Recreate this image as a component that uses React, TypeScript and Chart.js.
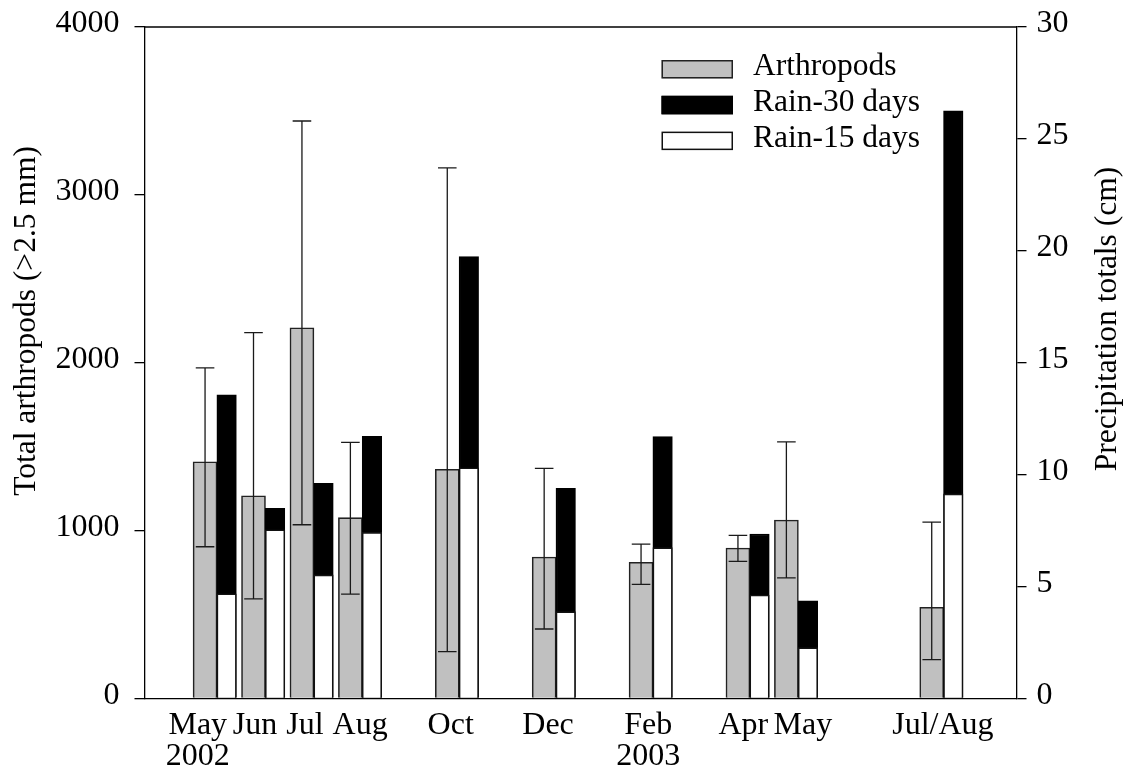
import React, { useEffect, useRef } from "react";
import { Chart, registerables } from "chart.js";

Chart.register(...registerables);

// Sampling dates, counted in months from May 2002
const sampleMonths = [0, 1, 2, 3, 5, 7, 9, 11, 12, 15];
// Mean total arthropods (>2.5 mm) per sample, with error-bar limits
const arthropods = [1410, 1208, 2208, 1077, 1365, 843, 811, 896, 1063, 543];
const arthropodsHigh = [1970, 2179, 3440, 1526, 3161, 1371, 920, 972, 1529, 1051];
const arthropodsLow = [904, 593, 1035, 622, 279, 414, 680, 817, 719, 231];
// Precipitation totals (cm) in the 30 and 15 days before each sample
const rain30 = [13.57, 8.5, 9.61, 11.71, 19.74, 9.39, 11.7, 7.35, 4.36, 26.26];
const rain15 = [4.68, 7.54, 5.52, 7.42, 10.31, 3.88, 6.74, 4.62, 2.27, 9.14];
// X-axis labels and where they sit (months from May 2002)
const xLabels: (string | string[])[] = [
  ["May", "2002"], "Jun", "Jul", "Aug", "Oct", "Dec", ["Feb", "2003"], "Apr", "May", "Jul/Aug",
];
const xLabelMonths = [-0.15, 1.03, 2.06, 3.2, 5.07, 7.08, 9.15, 11.11, 12.34, 15.23];

const leftTitle = "Total arthropods (>2.5 mm)";
const rightTitle = "Precipitation totals (cm)";

const FONT = "'Liberation Serif', 'Times New Roman', serif";
const FONT_SIZE = 31.5;
const TICK_SIZE = 32;
const RAIN_SHIFT = 0.445; // rain bars sit just right of the arthropod bar
const INK = "#000";
const EDGE = "#222";

const errorBars = {
  id: "errorBars",
  afterDatasetsDraw(chart: any) {
    const { ctx, scales } = chart;
    const x = scales.x;
    const y = scales.y;
    ctx.save();
    ctx.strokeStyle = "#1a1a1a";
    ctx.lineWidth = 1.3;
    sampleMonths.forEach((m, i) => {
      const px = x.getPixelForValue(m);
      const top = y.getPixelForValue(arthropodsHigh[i]);
      const bot = y.getPixelForValue(arthropodsLow[i]);
      const cap = 9.3;
      ctx.beginPath();
      ctx.moveTo(px, top);
      ctx.lineTo(px, bot);
      ctx.moveTo(px - cap, top);
      ctx.lineTo(px + cap, top);
      ctx.moveTo(px - cap, bot);
      ctx.lineTo(px + cap, bot);
      ctx.stroke();
    });
    ctx.restore();
  },
};

const frameAndText = {
  id: "frameAndText",
  afterDraw(chart: any) {
    const { ctx, chartArea } = chart;
    ctx.save();
    // top frame line
    ctx.strokeStyle = INK;
    ctx.lineWidth = 1.3;
    ctx.beginPath();
    ctx.moveTo(chartArea.left, chartArea.top);
    ctx.lineTo(chartArea.right, chartArea.top);
    ctx.stroke();

    // axis titles, both reading bottom-to-top
    ctx.fillStyle = INK;
    ctx.font = `${FONT_SIZE}px ${FONT}`;
    ctx.textAlign = "center";
    ctx.textBaseline = "alphabetic";
    ctx.save();
    ctx.translate(35, 321);
    ctx.rotate(-Math.PI / 2);
    ctx.fillText(leftTitle, 0, 0);
    ctx.restore();
    ctx.save();
    ctx.translate(1116, 319);
    ctx.rotate(-Math.PI / 2);
    ctx.fillText(rightTitle, 0, 0);
    ctx.restore();

    // legend
    const boxX = 661.5;
    const boxW = 71.5;
    const boxH = 18.5;
    const textX = 753;
    chart.data.datasets.forEach((ds: any, i: number) => {
      const top = 60 + i * 35.8;
      ctx.fillStyle = ds.backgroundColor;
      ctx.fillRect(boxX, top, boxW, boxH);
      ctx.strokeStyle = ds.borderColor;
      ctx.lineWidth = 1.5;
      ctx.strokeRect(boxX + 0.75, top + 0.75, boxW - 1.5, boxH - 1.5);
      ctx.fillStyle = INK;
      ctx.textAlign = "left";
      ctx.fillText(ds.label, textX, top + 15.2);
    });
    ctx.restore();
  },
};

export default function App() {
  const canvasRef = useRef<HTMLCanvasElement | null>(null);

  useEffect(() => {
    const canvas = canvasRef.current;
    if (!canvas) return;

    const tickFont = { family: FONT, size: TICK_SIZE, lineHeight: 0.97 };
    const noVerticalPadding = (scale: any) => {
      scale.paddingTop = 0;
      scale.paddingBottom = 0;
    };

    const chart = new Chart(canvas, {
      type: "bar",
      data: {
        datasets: [
          {
            label: "Arthropods",
            data: sampleMonths.map((m, i) => ({ x: m, y: arthropods[i] })),
            yAxisID: "y",
            backgroundColor: "#c0c0c0",
            borderColor: EDGE,
            borderWidth: 1.6,
            barThickness: 24,
            grouped: false,
            order: 2,
          },
          {
            label: "Rain-30 days",
            data: sampleMonths.map((m, i) => ({ x: m + RAIN_SHIFT, y: rain30[i] })),
            yAxisID: "y2",
            backgroundColor: "#000",
            borderColor: "#000",
            borderWidth: 1.5,
            barThickness: 19.5,
            grouped: false,
            order: 1,
          },
          {
            label: "Rain-15 days",
            data: sampleMonths.map((m, i) => ({ x: m + RAIN_SHIFT, y: rain15[i] })),
            yAxisID: "y2",
            backgroundColor: "#fff",
            borderColor: "#111",
            borderWidth: 1.6,
            barThickness: 19.5,
            grouped: false,
            order: 0,
          },
        ],
      } as any,
      options: {
        responsive: false,
        animation: false,
        layout: { padding: { top: 27, left: 0, right: 0, bottom: 0 } },
        plugins: {
          legend: { display: false },
          tooltip: { enabled: false },
          title: { display: false },
        },
        scales: {
          x: {
            type: "linear",
            offset: false,
            min: -1.25,
            max: 16.75,
            grid: { display: false, offset: false },
            border: { display: true, color: INK, width: 1.3 },
            afterBuildTicks: (scale: any) => {
              scale.ticks = xLabelMonths.map((v) => ({ value: v }));
            },
            afterFit: (scale: any) => {
              scale.height = 73.5;
              scale.paddingLeft = 0;
              scale.paddingRight = 0;
            },
            ticks: {
              autoSkip: false,
              maxRotation: 0,
              minRotation: 0,
              padding: 4,
              color: INK,
              font: tickFont,
              callback: (_v: any, i: number) => xLabels[i],
            },
          },
          y: {
            type: "linear",
            position: "left",
            min: 0,
            max: 4000,
            grid: {
              display: true,
              drawOnChartArea: false,
              drawTicks: true,
              tickLength: 10,
              color: INK,
              lineWidth: 1.3,
            },
            border: { display: true, color: INK, width: 1.3 },
            afterFit: (scale: any) => {
              scale.width = 144.5;
              noVerticalPadding(scale);
            },
            ticks: {
              stepSize: 1000,
              padding: 15,
              labelOffset: -3,
              color: INK,
              font: tickFont,
              callback: (v: any) => String(v),
            },
          },
          y2: {
            type: "linear",
            position: "right",
            min: 0,
            max: 30,
            grid: {
              display: true,
              drawOnChartArea: false,
              drawTicks: true,
              tickLength: 10,
              color: INK,
              lineWidth: 1.3,
            },
            border: { display: true, color: INK, width: 1.3 },
            afterFit: (scale: any) => {
              scale.width = 115.5;
              noVerticalPadding(scale);
            },
            ticks: {
              stepSize: 5,
              padding: 10,
              labelOffset: -3,
              color: INK,
              font: tickFont,
              callback: (v: any) => String(v),
            },
          },
        },
      } as any,
      plugins: [errorBars, frameAndText],
    });

    return () => chart.destroy();
  }, []);

  return (
    <div style={{ position: "absolute", left: 0, top: 0, width: 1132, height: 772, background: "#fff" }}>
      <canvas ref={canvasRef} width={1132} height={772} style={{ display: "block" }} />
    </div>
  );
}
